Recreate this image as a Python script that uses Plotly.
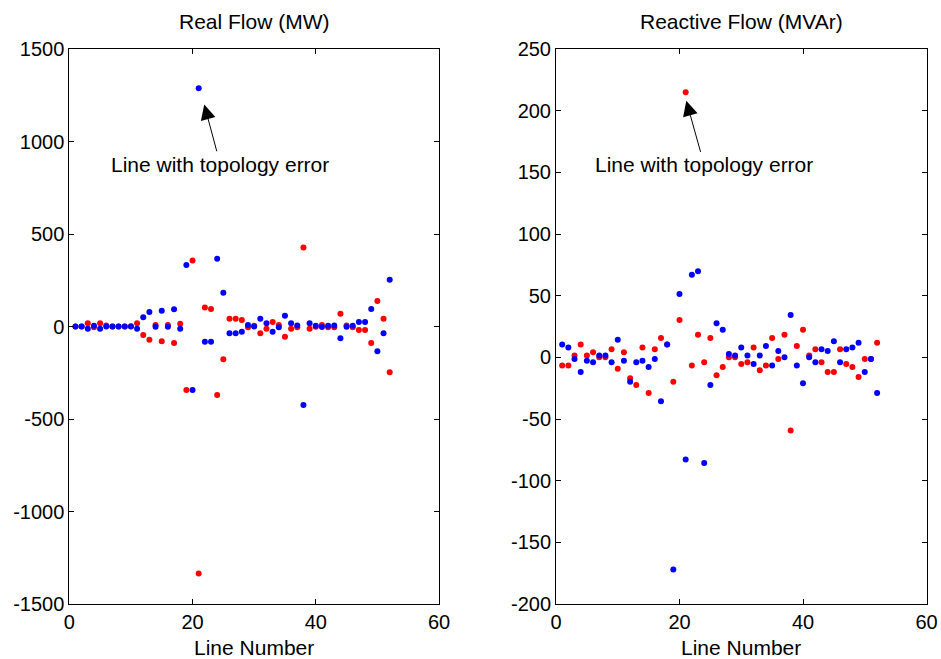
import plotly.graph_objects as go

line_no = list(range(1, 53))

real_red = [0, 0, 17, -4, 17, 6, 0, 0, 0, 2, 17, -46, -71, 8, -80, 8, -89, 15, -343, 357,
            -1335, 103, 94, -370, -177, 42, 42, 35, -4, 4, -37, -12, 24, 8, -55, -12, -4, 427, -12, -1,
            8, -4, -4, 69, 6, -4, -19, -19, -89, 138, 42, -247]
real_blue = [0, 0, -12, 4, -12, 0, 0, 0, 0, 0, -12, 50, 78, -1, 85, -1, 93, -12, 332, -343,
             1288, -82, -82, 366, 183, -37, -37, -28, 8, 0, 42, 17, -28, -4, 58, 17, 6, -424, 17, 4,
             -3, 4, 6, -64, -1, 4, 24, 24, 94, -134, -37, 253]

reac_red = [-6.7, -6.7, 1.4, 10.5, 1.4, 4.1, 0, 0, 6.5, -9.2, 4.1, -17, -22.4, 7.9, -28.9, 6.5, 15.7, 10.5, -19.7, 30.3,
            215, -6.7, 18.4, -4, 15.7, -14.6, -7.8, 0, 0, -5.4, -4, 7.9, -10.5, -6.7, 15.7, -1.3, 18.4, -59.4, 9.2, 22.4,
            1.4, 6.5, -4, -11.8, -11.8, 6.5, -5.4, -7.8, -15.9, -1.3, -1.3, 11.9]
reac_blue = [10.5, 7.9, -1.3, -11.8, -2.7, -4, 1.4, 1.4, -4, 14.3, -2.7, -19.7, -4, -2.7, -7.8, -1.3, -35.6, 10.5, -172, 51.4,
             -82.9, 67, 69.7, -85.6, -22.4, 27.6, 22.4, 2.7, 1.4, 7.9, 1.4, -5.4, 1.4, 9.2, -6.7, 5.1, 0, 34.3, -6.7, -21.1,
             0, -4, 6.5, 5.1, 13, -4, 6.5, 7.9, 11.9, -11.8, -1.3, -28.9]

x_ticks = [0, 20, 40, 60]
real_ticks = [-1500, -1000, -500, 0, 500, 1000, 1500]
reac_ticks = [-200, -150, -100, -50, 0, 50, 100, 150, 200, 250]

FONT = "Liberation Sans, Arial, sans-serif"
FS_TICK = 20
FS = 21

fig = go.Figure()
ms = 6
fig.add_trace(go.Scatter(x=line_no, y=real_red, mode="markers", marker=dict(color="#ff0000", size=ms),
                         xaxis="x", yaxis="y", showlegend=False))
fig.add_trace(go.Scatter(x=line_no, y=real_blue, mode="markers", marker=dict(color="#0000ff", size=ms),
                         xaxis="x", yaxis="y", showlegend=False))
fig.add_trace(go.Scatter(x=line_no, y=reac_red, mode="markers", marker=dict(color="#ff0000", size=ms),
                         xaxis="x2", yaxis="y2", showlegend=False))
fig.add_trace(go.Scatter(x=line_no, y=reac_blue, mode="markers", marker=dict(color="#0000ff", size=ms),
                         xaxis="x2", yaxis="y2", showlegend=False))

W, H = 941, 659
ydom = [(H - 604) / H, (H - 49) / H]

axis_common = dict(showline=True, linecolor="black", linewidth=1, mirror="ticks", ticks="inside",
                   ticklen=5, tickcolor="black", tickwidth=1, showgrid=False, zeroline=False,
                   automargin=False,
                   tickfont=dict(family=FONT, size=FS_TICK, color="black"))


def labels(vals):
    return [str(v) for v in vals]


fig.update_layout(
    width=W, height=H,
    margin=dict(l=0, r=0, t=0, b=0),
    paper_bgcolor="white", plot_bgcolor="white",
    font=dict(family=FONT, size=FS, color="black"),
    xaxis=dict(domain=[69.3 / W, 439 / W], range=[0, 60], tickvals=x_ticks, ticktext=labels(x_ticks),
               anchor="y", **axis_common),
    yaxis=dict(domain=ydom, range=[-1500, 1500], tickvals=real_ticks, ticktext=labels(real_ticks),
               anchor="x", **axis_common),
    xaxis2=dict(domain=[556 / W, 926.5 / W], range=[0, 60], tickvals=x_ticks, ticktext=labels(x_ticks),
                anchor="y2", **axis_common),
    yaxis2=dict(domain=ydom, range=[-200, 250], tickvals=reac_ticks, ticktext=labels(reac_ticks),
                anchor="x2", **axis_common),
)

ann = []
ann.append(dict(text="Real Flow (MW)", xref="paper", yref="paper", x=(69.3 + 439) / 2 / W,
                y=(H - 22) / H, showarrow=False, xanchor="center", yanchor="middle",
                font=dict(family=FONT, size=FS)))
ann.append(dict(text="Reactive Flow (MVAr)", xref="paper", yref="paper", x=(556 + 926.5) / 2 / W,
                y=(H - 22) / H, showarrow=False, xanchor="center", yanchor="middle",
                font=dict(family=FONT, size=FS)))
for cx in [(69.3 + 439) / 2, (556 + 926.5) / 2]:
    ann.append(dict(text="Line Number", xref="paper", yref="paper", x=cx / W, y=(H - 647) / H,
                    showarrow=False, xanchor="center", yanchor="middle", font=dict(family=FONT, size=FS)))

ann.append(dict(text="Line with topology error", xref="x", yref="y", x=21.9, y=1200,
                axref="x", ayref="y", ax=24.5, ay=877, showarrow=True, arrowhead=2, arrowsize=3,
                arrowwidth=1, arrowcolor="black", font=dict(family=FONT, size=FS)))
ann.append(dict(text="Line with topology error", xref="x2", yref="y2", x=21.1, y=208,
                axref="x2", ayref="y2", ax=24.0, ay=156, showarrow=True, arrowhead=2, arrowsize=3,
                arrowwidth=1, arrowcolor="black", font=dict(family=FONT, size=FS)))
fig.update_layout(annotations=ann)

fig.write_html("out.html", config={"displayModeBar": False},
               post_script="document.body.style.margin='0';document.body.style.overflow='hidden';"
                           "document.documentElement.style.overflow='hidden';")
